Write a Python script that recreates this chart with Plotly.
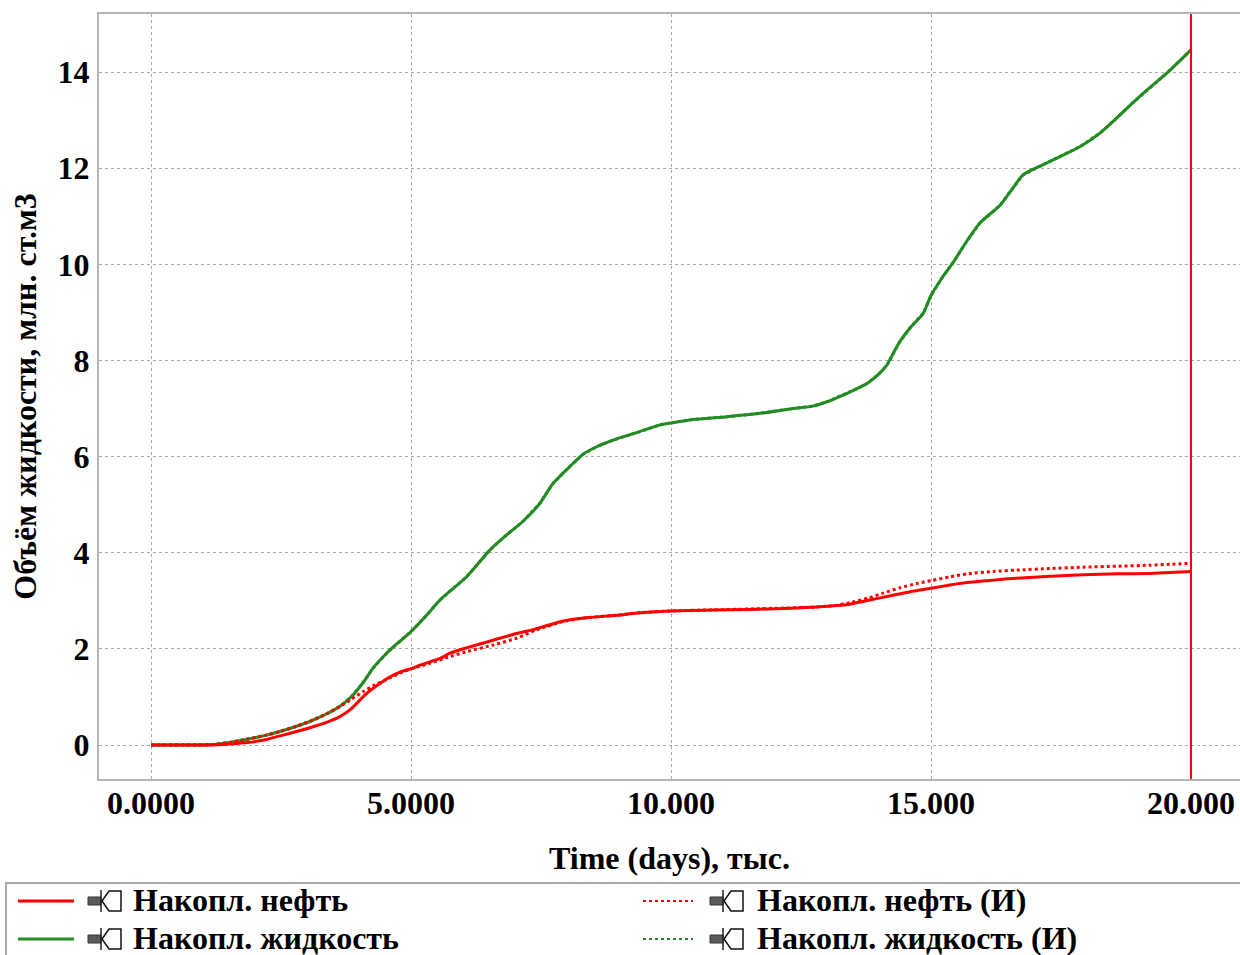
import plotly.graph_objects as go

# ---- data (time in thousands of days, volumes in million st.m3) ----
t_liq = [0.0, 0.5, 1.0, 1.2, 1.5, 1.85, 2.2, 2.48, 2.8, 3.12, 3.4, 3.63, 3.85, 4.08, 4.27,
         4.54, 4.65, 5.0, 5.3, 5.56, 6.07, 6.52, 6.85, 7.15, 7.48, 7.73, 8.06, 8.31, 8.6,
         8.88, 9.4, 9.79, 10.0, 10.42, 11.08, 11.71, 12.35, 12.73, 13.0, 13.31, 13.55,
         13.77, 14.0, 14.15, 14.25, 14.4, 14.6, 14.85, 15.0, 15.2, 15.42, 15.7, 15.94,
         16.33, 16.55, 16.77, 17.15, 17.5, 17.87, 18.25, 18.55, 18.88, 19.2, 19.54, 20.0]
liq = [0.0, 0.0, 0.0, 0.01, 0.05, 0.12, 0.2, 0.28, 0.39, 0.52, 0.66, 0.8, 1.0, 1.3, 1.6,
       1.92, 2.03, 2.36, 2.7, 3.02, 3.5, 4.06, 4.38, 4.65, 5.03, 5.44, 5.8, 6.05, 6.22,
       6.34, 6.52, 6.66, 6.7, 6.77, 6.83, 6.9, 7.0, 7.05, 7.14, 7.28, 7.4,
       7.52, 7.72, 7.9, 8.1, 8.39, 8.68, 8.98, 9.35, 9.7, 10.03, 10.5, 10.86,
       11.23, 11.55, 11.86, 12.07, 12.25, 12.45, 12.73, 13.02, 13.36, 13.67, 13.98, 14.46]
liq_hist = [0.0, 0.0, 0.0, 0.01, 0.05, 0.12, 0.2, 0.28, 0.39, 0.52, 0.66, 0.8, 1.0, 1.3, 1.6,
            1.92, 2.03, 2.36, 2.7, 3.02, 3.5, 4.06, 4.38, 4.65, 5.03, 5.44, 5.8, 6.05, 6.22,
            6.34, 6.52, 6.66, 6.7, 6.77, 6.83, 6.9, 7.0, 7.05, 7.14, 7.28, 7.4,
            7.52, 7.72, 7.9, 8.1, 8.39, 8.68, 8.98, 9.35, 9.7, 10.03, 10.5, 10.86,
            11.23, 11.55, 11.86, 12.07, 12.25, 12.45, 12.73, 13.02, 13.36, 13.67, 13.98, 14.46]

t_oil = [0.0, 1.0, 1.2, 1.5, 1.85, 2.2, 2.48, 2.8, 3.12, 3.4, 3.63, 3.85, 4.02, 4.2, 4.4,
         4.6, 4.8, 5.04, 5.17, 5.56, 5.75, 6.1, 6.58, 7.03, 7.35, 7.6, 7.93, 8.4, 8.96,
         9.4, 10.0, 10.8, 11.52, 12.2, 12.8, 13.2, 13.44, 13.8, 14.2, 14.6, 15.0, 15.37,
         15.69, 16.2, 16.65, 17.3, 17.92, 18.6, 19.2, 19.6, 20.0]
oil = [0.0, 0.0, 0.0, 0.02, 0.05, 0.11, 0.19, 0.28, 0.38, 0.48, 0.59, 0.75, 0.94, 1.12, 1.28,
       1.42, 1.52, 1.6, 1.66, 1.8, 1.91, 2.03, 2.18, 2.32, 2.4, 2.48, 2.58, 2.65, 2.7,
       2.75, 2.79, 2.81, 2.82, 2.84, 2.87, 2.9, 2.93, 3.01, 3.1, 3.19, 3.26, 3.33,
       3.38, 3.43, 3.47, 3.51, 3.54, 3.56, 3.57, 3.59, 3.61]

t_oil_hist = [0.0, 1.0, 1.2, 1.5, 1.85, 2.2, 2.48, 2.8, 3.12, 3.4, 3.63, 3.85, 4.08, 4.3,
              4.54, 4.8, 5.04, 5.3, 5.75, 6.1, 6.58, 7.03, 7.4, 7.93, 8.4, 8.96, 9.4, 10.0,
              10.8, 11.52, 12.2, 12.8, 13.2, 13.44, 13.8, 14.08, 14.4, 14.73, 15.0, 15.37,
              15.69, 16.2, 16.65, 17.3, 17.92, 18.6, 19.2, 19.6, 20.0]
oil_hist = [0.0, 0.0, 0.01, 0.05, 0.12, 0.2, 0.28, 0.39, 0.52, 0.66, 0.8, 0.95, 1.11, 1.25,
            1.37, 1.5, 1.6, 1.68, 1.84, 1.95, 2.08, 2.22, 2.39, 2.57, 2.65, 2.7, 2.75, 2.79,
            2.81, 2.83, 2.85, 2.87, 2.91, 2.96, 3.06, 3.16, 3.27, 3.36, 3.42, 3.5,
            3.56, 3.61, 3.64, 3.67, 3.7, 3.72, 3.74, 3.76, 3.78]

cursor_time = 20.0

x_tickvals = [0, 5, 10, 15, 20]
x_ticktext = ["0.0000", "5.0000", "10.000", "15.000", "20.000"]
y_tickvals = [0, 2, 4, 6, 8, 10, 12, 14]
y_ticktext = ["0", "2", "4", "6", "8", "10", "12", "14"]

names = ["Накопл. нефть", "Накопл. жидкость", "Накопл. нефть (И)", "Накопл. жидкость (И)"]

RED = "#ff0000"
GREEN = "#228b22"
FONT = "Liberation Serif"
FS = 32

# ---- figure geometry (pixels) ----
W, H = 1240, 955
L, R, T, B = 99, 1240, 14, 779


def fx(px):
    return (px - L) / (R - L)


def fy(py):
    return (B - py) / (B - T)


fig = go.Figure()
fig.add_trace(go.Scatter(x=t_liq, y=liq_hist, mode="lines", name=names[3],
                         line=dict(color=GREEN, width=3, dash="dot"), showlegend=False))
fig.add_trace(go.Scatter(x=t_liq, y=liq, mode="lines", name=names[1],
                         line=dict(color=GREEN, width=3, shape="spline", smoothing=0.6),
                         showlegend=False))
fig.add_trace(go.Scatter(x=t_oil, y=oil, mode="lines", name=names[0],
                         line=dict(color=RED, width=3, shape="spline", smoothing=0.6),
                         showlegend=False))
fig.add_trace(go.Scatter(x=t_oil_hist, y=oil_hist, mode="lines", name=names[2],
                         line=dict(color=RED, width=3, dash="dot", shape="spline", smoothing=0.6),
                         showlegend=False))

shapes = []
annotations = []

# time cursor
shapes.append(dict(type="line", xref="x", yref="paper", x0=cursor_time, x1=cursor_time,
                   y0=0, y1=1, line=dict(color=RED, width=2)))

# legend frame
shapes.append(dict(type="rect", xref="paper", yref="paper",
                   x0=fx(6), x1=fx(1245), y0=fy(883), y1=fy(965),
                   line=dict(color="#a8a8a8", width=2), fillcolor="rgba(0,0,0,0)"))


def pin_icon(x0, yc):
    # needle
    shapes.append(dict(type="rect", xref="paper", yref="paper",
                       x0=fx(x0), x1=fx(x0 + 13), y0=fy(yc - 4), y1=fy(yc + 4),
                       line=dict(color="#333333", width=1), fillcolor="#5a5a5a"))
    # collar
    shapes.append(dict(type="line", xref="paper", yref="paper",
                       x0=fx(x0 + 13), x1=fx(x0 + 13), y0=fy(yc - 11), y1=fy(yc + 11),
                       line=dict(color="#222222", width=1.5)))
    # head
    poly = [(x0 + 14, yc), (x0 + 21, yc - 10), (x0 + 33, yc - 10), (x0 + 33, yc + 10),
            (x0 + 21, yc + 10)]
    path = "M " + " L ".join(f"{fx(a):.5f},{fy(b):.5f}" for a, b in poly) + " Z"
    shapes.append(dict(type="path", xref="paper", yref="paper", path=path,
                       line=dict(color="#111111", width=1.5), fillcolor="white"))


legend_items = [
    (names[0], RED, "solid", 18, 74, 88, 131, 901),
    (names[1], GREEN, "solid", 18, 74, 88, 131, 939),
    (names[2], RED, "dot", 643, 693, 710, 755, 901),
    (names[3], GREEN, "dot", 643, 693, 710, 755, 939),
]
for label, color, dash, lx0, lx1, ix, tx, yc in legend_items:
    shapes.append(dict(type="line", xref="paper", yref="paper",
                       x0=fx(lx0), x1=fx(lx1), y0=fy(yc), y1=fy(yc),
                       line=dict(color=color, width=3 if dash == "solid" else 2, dash=dash)))
    pin_icon(ix, yc)
    annotations.append(dict(xref="paper", yref="paper", x=fx(tx), y=fy(yc - 1),
                            xanchor="left", yanchor="middle", showarrow=False, text=label,
                            font=dict(family=FONT, size=FS, color="black", weight="bold")))

fig.update_layout(
    width=W, height=H,
    margin=dict(l=L, r=W - R, t=T, b=H - B),
    paper_bgcolor="white", plot_bgcolor="white",
    shapes=shapes, annotations=annotations,
    showlegend=False,
    xaxis=dict(
        range=[(L - 151) / 52.0, (R - 151) / 52.0],
        tickmode="array", tickvals=x_tickvals, ticktext=x_ticktext,
        showgrid=True, gridcolor="#a8a8a8", gridwidth=1, griddash="dot",
        zeroline=False, showline=True, linecolor="#b4b4b4", linewidth=2, mirror=True,
        ticks="", ticklabelstandoff=-5,
        tickfont=dict(family=FONT, size=FS, color="black", weight="bold"),
        title=dict(text="Time (days), тыс.", standoff=26,
                   font=dict(family=FONT, size=FS, color="black", weight="bold")),
    ),
    yaxis=dict(
        range=[(745 - B) / 48.07, (745 - T) / 48.07],
        tickmode="array", tickvals=y_tickvals, ticktext=y_ticktext,
        showgrid=True, gridcolor="#a8a8a8", gridwidth=1, griddash="dot",
        zeroline=False, showline=True, linecolor="#b4b4b4", linewidth=2, mirror=False,
        ticks="", ticklabelstandoff=1,
        tickfont=dict(family=FONT, size=FS, color="black", weight="bold"),
        title=dict(text="Объём жидкости, млн. ст.м3", standoff=11,
                   font=dict(family=FONT, size=FS, color="black", weight="bold")),
    ),
)

fig.write_html("out.html")
